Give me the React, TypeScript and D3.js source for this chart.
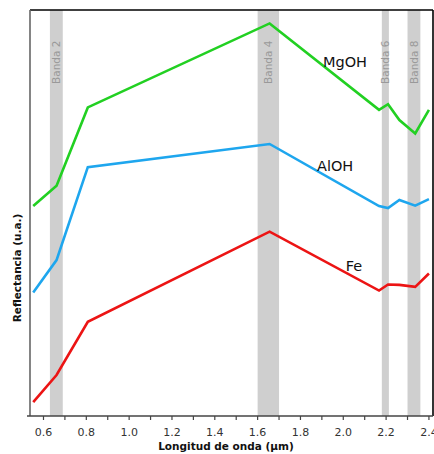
import React from "react";
import * as d3 from "d3";

const wavelengths = [0.552, 0.661, 0.807, 1.656, 2.167, 2.209, 2.262, 2.336, 2.4];
const mgoh = [51.7, 56.7, 76.0, 96.7, 75.4, 76.8, 72.9, 69.6, 75.4];
const aloh = [30.4, 38.4, 61.3, 67.0, 51.7, 51.2, 53.2, 51.8, 53.4];
const fe = [3.4, 10.1, 23.2, 45.4, 30.9, 32.4, 32.3, 31.8, 35.1];

const bandNames = ["Banda 2", "Banda 4", "Banda 6", "Banda 8"];
const bandStart = [0.63, 1.6, 2.18, 2.3];
const bandEnd = [0.69, 1.7, 2.213, 2.36];

const xTicks = [0.6, 0.8, 1.0, 1.2, 1.4, 1.6, 1.8, 2.0, 2.2, 2.4];
const xMinorTicks = d3.range(6, 25).map((d) => d / 10);

const seriesNames = ["MgOH", "AlOH", "Fe"];
const seriesColors = ["#22d022", "#1ea6ee", "#ec1414"];
const labelPos = [
  { x: 2.008, v: 86.0 },
  { x: 1.962, v: 60.4 },
  { x: 2.05, v: 35.6 },
];

export default function App() {
  const W = 434;
  const H = 454;
  const left = 30;
  const right = 433;
  const top = 10;
  const bottom = 416;
  const x = d3.scaleLinear().domain([0.537, 2.419]).range([left, right]);
  const y = d3.scaleLinear().domain([0, 100]).range([bottom, top]);
  const line = d3
    .line<number>()
    .x((_, i) => x(wavelengths[i]))
    .y((d) => y(d));
  const series = [mgoh, aloh, fe];
  const font = "DejaVu Sans, Verdana, sans-serif";

  return (
    <svg
      width={W}
      height={H}
      style={{ position: "absolute", left: 0, top: 0, background: "#fff" }}
      fontFamily={font}
    >
      {bandNames.map((b, i) => (
        <g key={b}>
          <rect
            x={x(bandStart[i])}
            y={top}
            width={x(bandEnd[i]) - x(bandStart[i])}
            height={bottom - top}
            fill="#cfcfcf"
          />
          <text
            transform={`translate(${(x(bandStart[i]) + x(bandEnd[i])) / 2 + 3.8},84) rotate(-90)`}
            fontSize={10.5}
            fill="#999"
          >
            {b}
          </text>
        </g>
      ))}
      {series.map((s, i) => (
        <path
          key={seriesNames[i]}
          d={line(s) || ""}
          fill="none"
          stroke={seriesColors[i]}
          strokeWidth={2.6}
          strokeLinejoin="miter"
        />
      ))}
      {seriesNames.map((n, i) => (
        <text
          key={n}
          x={x(labelPos[i].x)}
          y={y(labelPos[i].v)}
          textAnchor="middle"
          fontSize={14.5}
          fill="#111"
        >
          {n}
        </text>
      ))}
      <line x1={left} x2={right} y1={top} y2={top} stroke="#000" strokeWidth={1.6} />
      <line x1={right} x2={right} y1={top} y2={bottom} stroke="#000" strokeWidth={1.6} />
      <line x1={left} x2={left} y1={top} y2={bottom} stroke="#666" strokeWidth={1.6} />
      <line x1={left - 3} x2={right} y1={bottom} y2={bottom} stroke="#444" strokeWidth={1.4} />
      {xMinorTicks.map((t) => (
        <line key={t} x1={x(t)} x2={x(t)} y1={bottom} y2={bottom + 4} stroke="#444" strokeWidth={1.2} />
      ))}
      {xTicks.map((t) => (
        <text key={t} x={x(t)} y={436} textAnchor="middle" fontSize={11} fill="#333">
          {t.toFixed(1)}
        </text>
      ))}
      <text x={226} y={450} textAnchor="middle" fontSize={10.5} fontWeight="bold" fill="#111">
        Longitud de onda (µm)
      </text>
      <text
        transform={`translate(21,268) rotate(-90)`}
        textAnchor="middle"
        fontSize={10.5}
        fontWeight="bold"
        fill="#111"
      >
        Reflectancia (u.a.)
      </text>
    </svg>
  );
}
